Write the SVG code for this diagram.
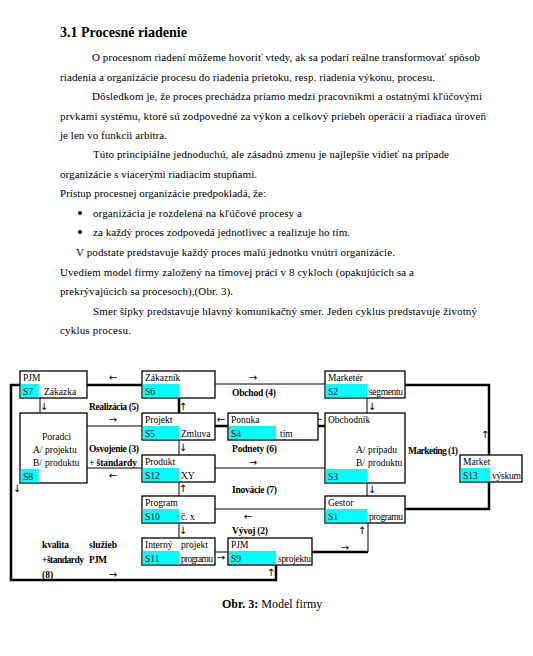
<svg xmlns="http://www.w3.org/2000/svg" width="533" height="656" viewBox="0 0 533 656">
<style>
.t{font-family:"Liberation Serif","Times New Roman",serif;font-size:11px;fill:#000}
.h{font-family:"Liberation Serif","Times New Roman",serif;font-size:14px;font-weight:bold;fill:#000}
.b{font-family:"Liberation Serif","Times New Roman",serif;font-size:9.5px;fill:#000}
.lb{font-family:"Liberation Serif","Times New Roman",serif;font-size:9.5px;font-weight:bold;fill:#000}
.ar{font-family:"DejaVu Sans","Liberation Serif",sans-serif;font-size:10px;fill:#000;text-anchor:middle}
.box{fill:#fff;stroke:#000;stroke-width:1.3}
.cy{fill:#00ffff}
.thin{stroke:#000;stroke-width:1;fill:none}
.thick{stroke:#000;stroke-width:2.5;fill:none}
.cap{font-family:"Liberation Serif","Times New Roman",serif;font-size:12px;fill:#000}
</style>
<rect width="533" height="656" fill="#fff"/>
<g id="text">
<text class="h" x="60" y="37">3.1 Procesné riadenie</text>
<text class="t" x="92" y="61" textLength="388">O procesnom riadení môžeme hovoriť vtedy, ak sa podarí reálne transformovať spôsob</text>
<text class="t" x="60" y="81" textLength="375">riadenia a organizácie procesu do riadenia prietoku, resp. riadenia výkonu, procesu.</text>
<text class="t" x="92" y="100" textLength="390">Dôsledkom je, že proces prechádza priamo medzi pracovníkmi a ostatnými kľúčovými</text>
<text class="t" x="60" y="120" textLength="426">prvkami systému, ktoré sú zodpovedné za výkon a celkový priebeh operácií a riadiaca úroveň</text>
<text class="t" x="60" y="139" textLength="107">je len vo funkcii arbitra.</text>
<text class="t" x="93" y="158" textLength="356">Túto principiálne jednoduchú, ale zásadnú zmenu je najlepšie vidieť na prípade</text>
<text class="t" x="60" y="178" textLength="197">organizácie s viacerými riadiacim stupňami.</text>
<text class="t" x="60" y="197" textLength="206">Prístup procesnej organizácie predpokladá, že:</text>
<circle cx="80" cy="213" r="2" fill="#000"/>
<text class="t" x="93" y="217" textLength="209">organizácia je rozdelená na kľúčové procesy a</text>
<circle cx="80" cy="232" r="2" fill="#000"/>
<text class="t" x="93" y="236" textLength="257">za každý proces zodpovedá jednotlivec a realizuje ho tím.</text>
<text class="t" x="76" y="256" textLength="319">V podstate predstavuje každý proces malú jednotku vnútri organizácie.</text>
<text class="t" x="60" y="276" textLength="354">Uvediem model firmy založený na tímovej práci v 8 cykloch (opakujúcich sa a</text>
<text class="t" x="60" y="295" textLength="173">prekrývajúcich sa procesoch),(Obr. 3).</text>
<text class="t" x="93" y="315" textLength="384">Smer šípky predstavuje hlavný komunikačný smer. Jeden cyklus predstavuje životný</text>
<text class="t" x="60" y="334" textLength="71">cyklus procesu.</text>
</g>
<g id="connectors">
<polyline class="thick" points="20,385 11,385 11,580 276,580 276,565"/>
<line class="thick" x1="87" y1="385" x2="142" y2="385"/>
<line class="thick" x1="179" y1="398" x2="179" y2="413"/>
<line class="thick" x1="215" y1="426" x2="228" y2="426"/>
<line class="thick" x1="318" y1="426" x2="325" y2="426"/>
<polyline class="thick" points="405,385 489,385 489,455"/>
<polyline class="thick" points="489,482 489,509 405,509"/>
<polyline class="thick" points="312,552 368,552"/>
<line class="thin" x1="368" y1="523" x2="368" y2="552"/>
<line class="thin" x1="215" y1="384" x2="325" y2="384"/>
<line class="thin" x1="40" y1="398" x2="40" y2="413"/>
<line class="thin" x1="87" y1="426" x2="142" y2="426"/>
<line class="thin" x1="367" y1="398" x2="367" y2="413"/>
<line class="thin" x1="179" y1="440" x2="179" y2="455"/>
<line class="thin" x1="87" y1="468" x2="142" y2="468"/>
<line class="thin" x1="215" y1="468" x2="325" y2="468"/>
<line class="thin" x1="179" y1="482" x2="179" y2="496"/>
<line class="thin" x1="367" y1="483" x2="367" y2="496"/>
<line class="thin" x1="215" y1="509" x2="325" y2="509"/>
<line class="thin" x1="179" y1="523" x2="179" y2="538"/>
<line class="thin" x1="215" y1="552" x2="228" y2="552"/>
<text class="ar" x="113" y="381">←</text>
<text class="ar" x="253" y="381">→</text>
<text class="ar" x="44" y="410">↓</text>
<text class="ar" x="183" y="410">↑</text>
<text class="ar" x="372" y="410">↓</text>
<text class="ar" x="113" y="423">→</text>
<text class="ar" x="221" y="423">←</text>
<text class="ar" x="318" y="423">←</text>
<text class="ar" x="485" y="438">↑</text>
<text class="ar" x="183" y="451">↓</text>
<text class="ar" x="253" y="466">→</text>
<text class="ar" x="113" y="479">←</text>
<text class="ar" x="17" y="492">↓</text>
<text class="ar" x="183" y="492">↑</text>
<text class="ar" x="372" y="493">↓</text>
<text class="ar" x="248" y="520">←</text>
<text class="ar" x="183" y="534">↓</text>
<text class="ar" x="362" y="534">↑</text>
<text class="ar" x="221" y="561">→</text>
<text class="ar" x="345" y="551">→</text>
<text class="ar" x="113" y="578">→</text>
<text class="ar" x="271" y="576">↑</text>
</g>
<g id="labels">
<text class="lb" x="89" y="410" textLength="50">Realizácia (5)</text>
<text class="lb" x="232" y="396" textLength="44">Obchod (4)</text>
<text class="lb" x="89" y="452" textLength="50">Osvojenie (3)</text>
<text class="lb" x="89" y="466" textLength="48">+ štandardy</text>
<text class="lb" x="232" y="452" textLength="45">Podnety (6)</text>
<text class="lb" x="408" y="454" textLength="50">Marketing (1)</text>
<text class="lb" x="232" y="493" textLength="45">Inovácie (7)</text>
<text class="lb" x="232" y="534" textLength="36">Vývoj (2)</text>
<text class="lb" x="42" y="548" textLength="27">kvalita</text>
<text class="lb" x="89" y="548" textLength="28">služieb</text>
<text class="lb" x="42" y="563" textLength="42">+štandardy</text>
<text class="lb" x="89" y="563" textLength="18">PJM</text>
<text class="lb" x="42" y="578">(8)</text>
</g>
<g id="S7"><rect class="box" x="20" y="371" width="67" height="27"/><rect class="cy" x="20.7" y="384" width="18" height="13.3"/><text class="b" x="23" y="381">PJM</text><text class="b" x="23" y="395">S7</text><text class="b" x="44" y="395">Zákazka</text></g>
<g id="S6"><rect class="box" x="142" y="371" width="73" height="27"/><rect class="cy" x="142.7" y="384" width="36.3" height="13.3"/><text class="b" x="145" y="381">Zákazník</text><text class="b" x="145" y="395">S6</text></g>
<g id="S2"><rect class="box" x="325" y="371" width="80" height="27"/><rect class="cy" x="325.7" y="384" width="41.3" height="13.3"/><text class="b" x="328" y="381">Marketér</text><text class="b" x="328" y="395">S2</text><text class="b" x="369" y="395" textLength="34">segmentu</text></g>
<g id="S8"><rect class="box" x="20" y="413" width="67" height="70"/><rect class="cy" x="20.7" y="469" width="18" height="13.3"/><text class="b" x="42" y="440">Poradci</text><text class="b" x="33" y="453">A/</text><text class="b" x="45" y="453">projektu</text><text class="b" x="33" y="466">B/</text><text class="b" x="45" y="466">produktu</text><text class="b" x="23" y="480">S8</text></g>
<g id="S5"><rect class="box" x="142" y="413" width="73" height="27"/><rect class="cy" x="142.7" y="426" width="36.3" height="13.3"/><text class="b" x="145" y="423">Projekt</text><text class="b" x="145" y="437">S5</text><text class="b" x="181" y="437">Zmluva</text></g>
<g id="S4"><rect class="box" x="228" y="413" width="90" height="27" stroke-width="2"/><rect class="cy" x="229" y="426" width="47" height="13"/><text class="b" x="231" y="423">Ponuka</text><text class="b" x="231" y="437">S4</text><text class="b" x="280" y="437">tím</text></g>
<g id="S3"><rect class="box" x="325" y="413" width="80" height="70"/><rect class="cy" x="325.7" y="469" width="41.3" height="13.3"/><text class="b" x="328" y="423">Obchodník</text><text class="b" x="356" y="453">A/</text><text class="b" x="368" y="453">prípadu</text><text class="b" x="356" y="466">B/</text><text class="b" x="368" y="466">produktu</text><text class="b" x="328" y="480">S3</text></g>
<g id="S12"><rect class="box" x="142" y="455" width="73" height="27"/><rect class="cy" x="142.7" y="468" width="36.3" height="13.3"/><text class="b" x="145" y="465">Produkt</text><text class="b" x="145" y="479">S12</text><text class="b" x="181" y="479">XY</text></g>
<g id="S13"><rect class="box" x="460" y="455" width="62" height="27"/><rect class="cy" x="460.7" y="468" width="29.3" height="13.3"/><text class="b" x="463" y="465">Market</text><text class="b" x="463" y="479">S13</text><text class="b" x="492" y="479" textLength="29">výskum</text></g>
<g id="S10"><rect class="box" x="142" y="496" width="73" height="27"/><rect class="cy" x="142.7" y="509" width="36.3" height="13.3"/><text class="b" x="145" y="506">Program</text><text class="b" x="145" y="520">S10</text><text class="b" x="181" y="520">č. x</text></g>
<g id="S1"><rect class="box" x="325" y="496" width="80" height="27"/><rect class="cy" x="325.7" y="509" width="41.3" height="13.3"/><text class="b" x="328" y="506">Gestor</text><text class="b" x="328" y="520">S1</text><text class="b" x="369" y="520" textLength="34">programu</text></g>
<g id="S11"><rect class="box" x="142" y="538" width="73" height="27"/><rect class="cy" x="142.7" y="551" width="36.3" height="13.3"/><text class="b" x="145" y="548">Interný</text><text class="b" x="181" y="548">projekt</text><text class="b" x="145" y="562">S11</text><text class="b" x="181" y="562" textLength="32">programu</text></g>
<g id="S9"><rect class="box" x="228" y="538" width="84" height="27" stroke-width="2"/><rect class="cy" x="229" y="551" width="47" height="13"/><text class="b" x="231" y="548">PJM</text><text class="b" x="231" y="562">S9</text><text class="b" x="278" y="562" textLength="33">sprojektu</text></g>
<g id="caption"><text class="cap" x="222" y="608"><tspan font-weight="bold">Obr. 3:</tspan> Model firmy</text></g>
</svg>
